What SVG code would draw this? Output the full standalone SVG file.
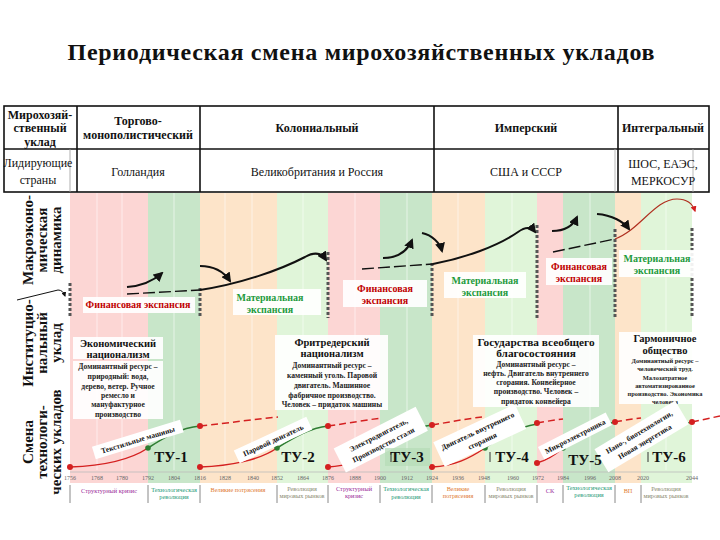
<svg xmlns="http://www.w3.org/2000/svg" width="720" height="540" viewBox="0 0 720 540" font-family="'Liberation Serif','Times New Roman',serif">
<defs>
<style>
text{font-family:"Liberation Serif","Times New Roman",serif}
.title{font-size:24px;font-weight:bold;fill:#111}
.th{font-size:12px;font-weight:bold;fill:#111}
.td{font-size:12px;fill:#111}
.side{font-size:15px;font-weight:bold;fill:#111}
.fin{font-size:10px;font-weight:bold;fill:#c00000}
.mat{font-size:10px;font-weight:bold;fill:#1e9a3c}
.lbl{fill:#fff;opacity:0.92}
.it{font-size:10.5px;font-weight:bold;fill:#111}
.id{font-size:7.6px;font-weight:bold;fill:#222}
.ids{font-size:6.4px;font-weight:bold;fill:#222}
.tu{font-size:15px;font-weight:bold;fill:#111}
.rt{font-size:7.5px;font-weight:bold;fill:#111}
.yr{font-size:6px;fill:#666}
.lg{font-size:6.3px}
.sk{fill:#9b2d9b}.tr{fill:#1f9a78}.vp{fill:#e07a30}.rm{fill:#8a8a70}
.dv{stroke:#555;stroke-width:3;stroke-dasharray:3,2;fill:none}
.mc{stroke:#111;stroke-width:2;fill:none}
.base{stroke:#111;stroke-width:1.4;fill:none;stroke-dasharray:12,4}
.rc{stroke:#d42020;stroke-width:1.5;fill:none}
.gc{stroke:#2e7d32;stroke-width:1.5;fill:none}
.rd{stroke:#d42020;stroke-width:1.5;fill:none;stroke-dasharray:7,4}
.sep{stroke:#888;stroke-width:1}
.strp{stroke:#fff;stroke-opacity:0.55;stroke-width:1}
</style>
<marker id="ah" viewBox="0 0 10 10" refX="8" refY="5" markerWidth="5" markerHeight="5" orient="auto"><path d="M0,0 L10,5 L0,10 z" fill="#111"/></marker>
<marker id="ahr" viewBox="0 0 10 10" refX="8" refY="5" markerWidth="5" markerHeight="5" orient="auto"><path d="M0,0 L10,5 L0,10 z" fill="#d42020"/></marker>
</defs>
<rect width="720" height="540" fill="#fff"/>

<text class="title" x="361" y="60" text-anchor="middle" textLength="587" lengthAdjust="spacing">Периодическая смена мирохозяйственных укладов</text>

<!-- background bands -->
<g id="bands">
<rect x="70" y="193" width="78" height="290" fill="#fcd6d4"/>
<rect x="148" y="193" width="52" height="290" fill="#c8e6c9"/>
<rect x="200" y="193" width="77" height="290" fill="#fde4c9"/>
<rect x="277" y="193" width="51" height="290" fill="#e0f5d9"/>
<rect x="328" y="193" width="52" height="290" fill="#fcd6d4"/>
<rect x="380" y="193" width="52" height="290" fill="#c8e6c9"/>
<rect x="432" y="193" width="53" height="290" fill="#fde4c9"/>
<rect x="485" y="193" width="52" height="290" fill="#e0f5d9"/>
<rect x="537" y="193" width="26" height="290" fill="#fcd6d4"/>
<rect x="563" y="193" width="52" height="290" fill="#c8e6c9"/>
<rect x="615" y="193" width="26" height="290" fill="#fde4c9"/>
<rect x="641" y="193" width="51" height="290" fill="#e0f5d9"/>
<g class="strp">
<line x1="97" y1="193" x2="97" y2="470"/><line x1="122" y1="193" x2="122" y2="470"/>
<line x1="174" y1="193" x2="174" y2="470"/><line x1="225" y1="193" x2="225" y2="470"/>
<line x1="252" y1="193" x2="252" y2="470"/><line x1="303" y1="193" x2="303" y2="470"/>
<line x1="355" y1="193" x2="355" y2="470"/><line x1="407" y1="193" x2="407" y2="470"/>
<line x1="458" y1="193" x2="458" y2="470"/><line x1="512" y1="193" x2="512" y2="470"/>
<line x1="590" y1="193" x2="590" y2="470"/><line x1="666" y1="193" x2="666" y2="470"/>
</g>
</g>

<!-- table -->
<g id="table">
<rect x="4" y="106" width="705" height="86" fill="#fff" stroke="#111" stroke-width="1.6"/>
<line x1="4" y1="149" x2="709" y2="149" stroke="#111" stroke-width="1.6"/>
<line x1="77" y1="106" x2="77" y2="192" stroke="#111" stroke-width="1.6"/>
<line x1="200" y1="106" x2="200" y2="192" stroke="#111" stroke-width="1.6"/>
<line x1="434" y1="106" x2="434" y2="192" stroke="#111" stroke-width="1.6"/>
<line x1="618" y1="106" x2="618" y2="192" stroke="#111" stroke-width="1.6"/>
<line x1="70" y1="149" x2="70" y2="192" stroke="#999" stroke-width="0.8"/>
<line x1="615" y1="149" x2="615" y2="192" stroke="#aaa" stroke-width="0.8"/>
<line x1="693" y1="149" x2="693" y2="192" stroke="#aaa" stroke-width="0.8"/>
<text class="th" text-anchor="middle"><tspan x="40" y="119">Мирохозяй-</tspan><tspan x="40" y="132">ственный</tspan><tspan x="40" y="146">уклад</tspan></text>
<text class="th" text-anchor="middle"><tspan x="138" y="125">Торгово-</tspan><tspan x="138" y="139">монополистический</tspan></text>
<text class="th" x="317" y="132" text-anchor="middle">Колониальный</text>
<text class="th" x="526" y="132" text-anchor="middle">Имперский</text>
<text class="th" x="663" y="132" text-anchor="middle">Интегральный</text>
<text class="td" text-anchor="middle"><tspan x="38" y="167">Лидирующие</tspan><tspan x="38" y="184">страны</tspan></text>
<text class="td" x="138" y="176" text-anchor="middle">Голландия</text>
<text class="td" x="317" y="176" text-anchor="middle">Великобритания и Россия</text>
<text class="td" x="526" y="176" text-anchor="middle">США и СССР</text>
<text class="td" text-anchor="middle"><tspan x="663" y="168">ШОС, ЕАЭС,</tspan><tspan x="663" y="185">МЕРКОСУР</tspan></text>
</g>

<!-- side labels -->
<g id="side-labels">
<text class="side" text-anchor="middle" transform="translate(0,240) rotate(-90)"><tspan x="0" y="33">Макроэконо-</tspan><tspan x="0" y="47">мическая</tspan><tspan x="0" y="61">динамика</tspan></text>
<text class="side" text-anchor="middle" transform="translate(0,343) rotate(-90)"><tspan x="0" y="33">Институцио-</tspan><tspan x="0" y="47">нальный</tspan><tspan x="0" y="61">уклад</tspan></text>
<text class="side" text-anchor="middle" transform="translate(0,442) rotate(-90)"><tspan x="0" y="33">Смена</tspan><tspan x="0" y="47">технологи-</tspan><tspan x="0" y="61">ческих укладов</tspan></text>
</g>

<!-- macro stage boundaries -->
<g id="boundaries">
<line class="dv" x1="70" y1="283" x2="70" y2="318"/>
<line class="dv" x1="200" y1="288" x2="200" y2="318"/>
<line class="dv" x1="328" y1="252" x2="328" y2="318"/>
<line class="dv" x1="432" y1="263" x2="432" y2="318"/>
<line class="dv" x1="537" y1="225" x2="537" y2="318"/>
<line class="dv" x1="615" y1="229" x2="615" y2="318"/>
<line class="dv" x1="692" y1="228" x2="692" y2="318"/>
</g>

<!-- connectors -->
<g id="connectors">
<path d="M17,300 L58,290 Q63,290 65,296" stroke="#111" stroke-width="1" fill="none" marker-end="url(#ah)"/>
<path class="mc" d="M127,287 C141,286 152,282 162,273" marker-end="url(#ah)"/>
<path class="mc" d="M200,266 C214,266 224,272 230,281" marker-end="url(#ah)"/>
<path class="base" d="M127,294 L200,290"/>
<path class="mc" d="M200,290 C240,284 280,270 305,257 Q319,249 326,260" marker-end="url(#ah)"/>
<path class="mc" d="M383,258 C397,258 407,252 412,240" marker-end="url(#ah)"/>
<path class="mc" d="M422,233 C432,235 440,243 442,251" marker-end="url(#ah)"/>
<path class="base" d="M362,269 L433,264"/>
<path class="mc" d="M433,264 C465,258 498,246 518,232 Q529,224 535,232" marker-end="url(#ah)"/>
<path class="mc" d="M552,231 C564,231 573,226 577,217" marker-end="url(#ah)"/>
<path class="mc" d="M597,214 C612,215 624,222 629,229" marker-end="url(#ah)"/>
<path class="base" d="M553,252 L615,239"/>
<path d="M615,239 C640,230 655,199 677,199 C688,199 693,205 695,211" stroke="#b03020" stroke-width="1.2" fill="none" marker-end="url(#ahr)"/>

<line x1="70" y1="472" x2="692" y2="472" stroke="#bbb" stroke-width="0.8"/>
<path class="rc" d="M70,467 C100,466 130,460 148,448"/>
<path class="gc" d="M148,448 C165,437 180,428 200,426"/>
<path class="rd" d="M200,426 C230,423 255,419 278,417"/>
<path class="rc" d="M200,467 C230,466 260,460 277,448"/>
<path class="gc" d="M277,448 C295,437 310,428 328,426"/>
<path class="rd" d="M328,426 C350,423 365,420 382,418"/>
<path class="rc" d="M328,467 C350,466 366,458 380,448"/>
<path class="gc" d="M380,448 C395,437 410,428 432,425"/>
<path class="rd" d="M432,425 C450,422 465,419 482,417"/>
<path class="rc" d="M432,467 C455,466 470,458 485,448"/>
<path class="gc" d="M485,448 C500,437 518,427 537,424"/>
<path class="rd" d="M537,423 C548,421 555,420 563,419"/>
<path class="rc" d="M537,463 C548,460 555,455 563,448"/>
<path class="gc" d="M563,448 C580,437 598,426 615,422"/>
<path class="rd" d="M615,422 C625,420 632,419 641,418"/>
<path class="rc" d="M615,463 C625,460 633,455 641,448"/>
<path class="gc" d="M641,448 C660,436 675,426 692,422"/>
<path class="rd" d="M692,422 L720,416"/>
<g fill="#d42020">
<circle cx="70" cy="467" r="3"/><circle cx="200" cy="426" r="3"/><circle cx="200" cy="467" r="3"/>
<circle cx="328" cy="426" r="3"/><circle cx="328" cy="467" r="3"/><circle cx="432" cy="425" r="3"/>
<circle cx="432" cy="467" r="3"/><circle cx="537" cy="423" r="3"/><circle cx="537" cy="463" r="3"/>
<circle cx="615" cy="422" r="3"/><circle cx="615" cy="463" r="3"/><circle cx="692" cy="422" r="3"/>
</g>
<g fill="#2e7d32">
<circle cx="148" cy="448" r="2.8"/><circle cx="277" cy="448" r="2.8"/><circle cx="380" cy="448" r="2.8"/>
<circle cx="485" cy="448" r="2.8"/><circle cx="563" cy="448" r="2.8"/><circle cx="641" cy="448" r="2.8"/>
</g>
</g>

<!-- macro labels -->
<g id="fin1"><rect class="lbl" x="83" y="297" width="112" height="16"/><text class="fin" x="138" y="308" text-anchor="middle">Финансовая экспансия</text></g>
<g id="mat1"><rect class="lbl" x="233" y="289" width="88" height="26"/><text class="mat" text-anchor="middle"><tspan x="270" y="301">Материальная</tspan><tspan x="270" y="313">экспансия</tspan></text></g>
<g id="fin2"><rect class="lbl" x="343" y="280" width="84" height="27"/><text class="fin" text-anchor="middle"><tspan x="385" y="292">Финансовая</tspan><tspan x="385" y="304">экспансия</tspan></text></g>
<g id="mat2"><rect class="lbl" x="444" y="272" width="82" height="26"/><text class="mat" text-anchor="middle"><tspan x="485" y="284">Материальная</tspan><tspan x="485" y="296">экспансия</tspan></text></g>
<g id="fin3"><rect class="lbl" x="546" y="258" width="66" height="27"/><text class="fin" text-anchor="middle"><tspan x="579" y="270">Финансовая</tspan><tspan x="579" y="282">экспансия</tspan></text></g>
<g id="mat3"><rect class="lbl" x="619" y="250" width="77" height="27"/><text class="mat" text-anchor="middle"><tspan x="657" y="262">Материальная</tspan><tspan x="657" y="274">экспансия</tspan></text></g>

<!-- institutional blocks -->
<g id="inst1">
<rect class="lbl" x="73" y="337" width="90" height="22"/>
<rect class="lbl" x="73" y="361" width="90" height="58"/>
<text class="it" text-anchor="middle"><tspan x="118" y="347">Экономический</tspan><tspan x="118" y="358">национализм</tspan></text>
<text class="id" text-anchor="middle"><tspan x="118" y="369">Доминантный ресурс –</tspan><tspan x="118" y="379">природный: вода,</tspan><tspan x="118" y="389">дерево, ветер. Ручное</tspan><tspan x="118" y="398">ремесло и</tspan><tspan x="118" y="407">мануфактурное</tspan><tspan x="118" y="417">производство</tspan></text>
</g>
<g id="inst2">
<rect class="lbl" x="275" y="335" width="113" height="75"/>
<text class="it" text-anchor="middle"><tspan x="332" y="346">Фритредерский</tspan><tspan x="332" y="357">национализм</tspan></text>
<text class="id" text-anchor="middle"><tspan x="332" y="368">Доминантный ресурс –</tspan><tspan x="332" y="378">каменный уголь. Паровой</tspan><tspan x="332" y="388">двигатель. Машинное</tspan><tspan x="332" y="398">фабричное производство.</tspan><tspan x="332" y="407">Человек – придаток машины</tspan></text>
</g>
<g id="inst3">
<rect class="lbl" x="473" y="335" width="126" height="72"/>
<text class="it" text-anchor="middle" style="font-size:11.3px"><tspan x="536" y="346">Государства всеобщего</tspan><tspan x="536" y="357">благосостояния</tspan></text>
<text class="id" text-anchor="middle"><tspan x="536" y="367">Доминантный ресурс –</tspan><tspan x="536" y="376">нефть. Двигатель внутреннего</tspan><tspan x="536" y="385">сгорания. Конвейерное</tspan><tspan x="536" y="394">производство. Человек –</tspan><tspan x="536" y="404">придаток  конвейера</tspan></text>
</g>
<g id="inst4">
<rect class="lbl" x="619" y="332" width="94" height="72"/>
<text class="it" text-anchor="middle"><tspan x="665" y="342">Гармоничное</tspan><tspan x="665" y="354">общество</tspan></text>
<text class="ids" text-anchor="middle"><tspan x="665" y="363">Доминантный ресурс –</tspan><tspan x="665" y="371">человеческий труд.</tspan><tspan x="665" y="380">Малозатратное</tspan><tspan x="665" y="388">автоматизированное</tspan><tspan x="665" y="396">производство. Экономика</tspan><tspan x="665" y="404">человека</tspan></text>
</g>

<!-- technology labels -->
<g id="tech1" transform="translate(138,440) rotate(-17)"><rect x="-46" y="-7" width="92" height="13" fill="#fff"/><text class="rt" x="0" y="2.5" text-anchor="middle">Текстильные машины</text></g>
<g id="tech2" transform="translate(273,440) rotate(-25)"><rect x="-40" y="-7" width="80" height="14" fill="#fff"/><text class="rt" x="0" y="3" text-anchor="middle">Паровой двигатель</text></g>
<g id="tech3" transform="translate(381,440) rotate(-27)"><rect x="-46" y="-14" width="92" height="27" fill="#fff"/><text class="rt" text-anchor="middle"><tspan x="0" y="-3">Электродвигатель,</tspan><tspan x="0" y="8">Производство стали</tspan></text></g>
<g id="tech4" transform="translate(480,436) rotate(-25)"><rect x="-45" y="-14" width="90" height="27" fill="#fff"/><text class="rt" text-anchor="middle"><tspan x="0" y="-3">Двигатель внутреннего</tspan><tspan x="0" y="8">сгорания</tspan></text></g>
<g id="tech5" transform="translate(575,436) rotate(-27)"><rect x="-38" y="-7" width="76" height="14" fill="#fff"/><text class="rt" x="0" y="3" text-anchor="middle">Микроэлектроника</text></g>
<g id="tech6" transform="translate(642,437) rotate(-31)"><rect x="-47" y="-14" width="94" height="27" fill="#fff"/><text class="rt" text-anchor="middle"><tspan x="0" y="-3">Нано-, биотехнологии,</tspan><tspan x="0" y="8">Новая энергетика</tspan></text></g>

<!-- TU labels -->
<g id="tu">
<rect x="385" y="448" width="45" height="18" fill="#b5dbb7" opacity="0.7"/>
<text class="tu" x="171" y="462" text-anchor="middle">ТУ-1</text>
<text class="tu" x="298" y="462" text-anchor="middle">ТУ-2</text>
<line x1="391" y1="452" x2="391" y2="462" stroke="#333" stroke-width="1"/>
<text class="tu" x="407" y="462" text-anchor="middle">ТУ-3</text>
<line x1="490" y1="452" x2="490" y2="462" stroke="#333" stroke-width="1"/>
<text class="tu" x="512" y="462" text-anchor="middle">ТУ-4</text>
<text class="tu" x="585" y="465" text-anchor="middle">ТУ-5</text>
<line x1="648" y1="452" x2="648" y2="462" stroke="#333" stroke-width="1"/>
<text class="tu" x="669" y="462" text-anchor="middle">ТУ-6</text>
</g>

<!-- axis -->
<g id="axis" class="yr" text-anchor="middle">
<text x="70" y="480">1756</text><text x="97" y="480">1768</text><text x="122" y="480">1780</text>
<text x="148" y="480">1792</text><text x="174" y="480">1804</text><text x="200" y="480">1816</text>
<text x="225" y="480">1828</text><text x="253" y="480">1840</text><text x="277" y="480">1852</text>
<text x="303" y="480">1864</text><text x="328" y="480">1876</text><text x="355" y="480">1888</text>
<text x="380" y="480">1900</text><text x="407" y="480">1912</text><text x="432" y="480">1924</text>
<text x="458" y="480">1936</text><text x="484" y="480">1948</text><text x="513" y="480">1960</text>
<text x="538" y="480">1972</text><text x="563" y="480">1984</text><text x="590" y="480">1996</text>
<text x="615" y="480">2008</text><text x="643" y="480">2020</text><text x="692" y="480">2044</text>
</g>

<!-- legend -->
<g id="legend">
<g class="sep">
<line x1="70" y1="485" x2="70" y2="503"/><line x1="148" y1="485" x2="148" y2="503"/>
<line x1="200" y1="485" x2="200" y2="503"/><line x1="277" y1="485" x2="277" y2="503"/>
<line x1="328" y1="485" x2="328" y2="503"/><line x1="380" y1="485" x2="380" y2="503"/>
<line x1="432" y1="485" x2="432" y2="503"/><line x1="485" y1="485" x2="485" y2="503"/>
<line x1="537" y1="485" x2="537" y2="503"/><line x1="563" y1="485" x2="563" y2="503"/>
<line x1="615" y1="485" x2="615" y2="503"/><line x1="641" y1="485" x2="641" y2="503"/>
</g>
<text class="lg sk" x="109" y="493" text-anchor="middle">Структурный кризис</text>
<text class="lg tr" text-anchor="middle"><tspan x="174" y="492">Технологическая</tspan><tspan x="174" y="499">революция</tspan></text>
<text class="lg vp" x="238" y="492" text-anchor="middle">Великие потрясения</text>
<text class="lg rm" text-anchor="middle"><tspan x="302" y="491">Революция</tspan><tspan x="302" y="498">мировых рынков</tspan></text>
<text class="lg sk" text-anchor="middle"><tspan x="354" y="491">Структурный</tspan><tspan x="354" y="498">кризис</tspan></text>
<text class="lg tr" text-anchor="middle"><tspan x="406" y="491">Технологическая</tspan><tspan x="406" y="499">революция</tspan></text>
<text class="lg vp" text-anchor="middle"><tspan x="458" y="491">Великие</tspan><tspan x="458" y="498">потрясения</tspan></text>
<text class="lg rm" text-anchor="middle"><tspan x="511" y="491">Революция</tspan><tspan x="511" y="498">мировых рынков</tspan></text>
<text class="lg sk" x="550" y="493" text-anchor="middle">СК</text>
<text class="lg tr" text-anchor="middle"><tspan x="589" y="490">Технологическая</tspan><tspan x="589" y="497">революция</tspan></text>
<text class="lg vp" x="628" y="493" text-anchor="middle">ВП</text>
<text class="lg rm" text-anchor="middle"><tspan x="666" y="491">Революция</tspan><tspan x="666" y="498">мировых рынков</tspan></text>
</g>
</svg>
